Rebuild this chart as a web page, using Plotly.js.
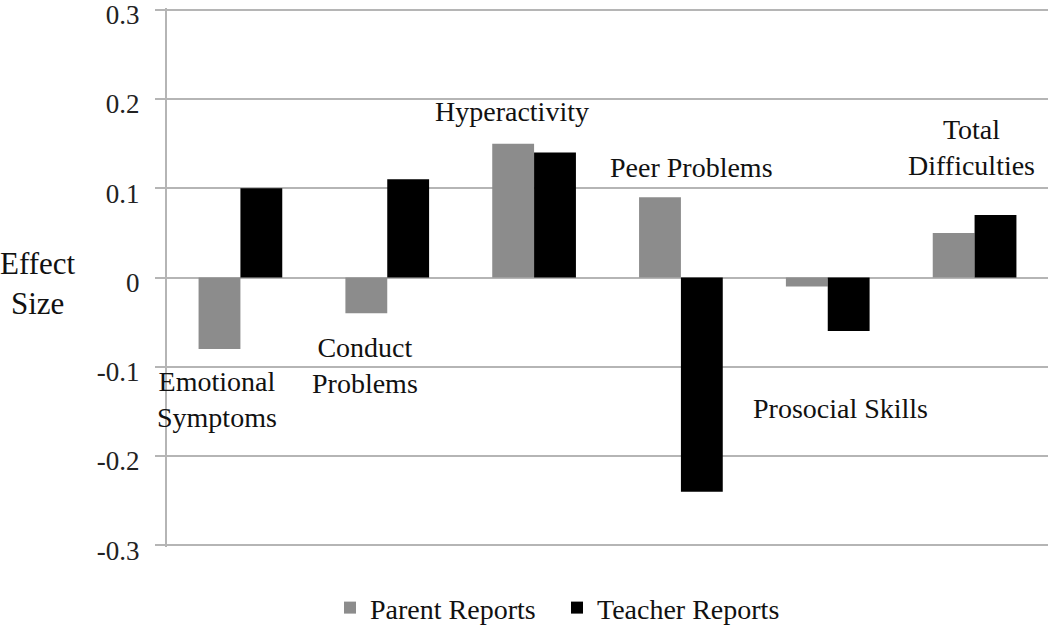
<!DOCTYPE html>
<html>
<head>
<meta charset="utf-8">
<script src="https://cdn.plot.ly/plotly-3.0.1.min.js"></script>
<style>html,body{margin:0;padding:0;background:#fff;}#chart{width:1050px;height:630px;}</style>
</head>
<body>
<div id="chart"></div>
<script>
const categories = ["Emotional Symptoms", "Conduct Problems", "Hyperactivity", "Peer Problems", "Prosocial Skills", "Total Difficulties"];
const parentReports = [-0.08, -0.04, 0.15, 0.09, -0.01, 0.05];
const teacherReports = [0.10, 0.11, 0.14, -0.24, -0.06, 0.07];
const seriesNames = ["Parent Reports", "Teacher Reports"];
const yTicks = [-0.3, -0.2, -0.1, 0, 0.1, 0.2, 0.3];
const yTickLabels = ["-0.3", "-0.2", "-0.1", "0", "0.1", "0.2", "0.3"];
const categoryLabels = ["Emotional<br>Symptoms", "Conduct<br>Problems", "Hyperactivity", "Peer Problems", "Prosocial Skills", "Total<br>Difficulties"];
const labelOffsetX = [-0.16, -0.15, -0.15, 0.07, 0.085, -0.02];
const labelY = [-0.137, -0.099, 0.186, 0.123, -0.147, 0.146];

const font = "Liberation Serif, Times New Roman, serif";

const traces = [
  {type: "bar", name: seriesNames[0], x: categories, y: parentReports, marker: {color: "#8c8c8c"}},
  {type: "bar", name: seriesNames[1], x: categories, y: teacherReports, marker: {color: "#000000"}}
];

const annotations = categoryLabels.map((t, i) => ({
  x: i + labelOffsetX[i], y: labelY[i], xref: "x", yref: "y",
  text: t, showarrow: false, font: {family: font, size: 28, color: "#111"},
  xanchor: "center", yanchor: "middle", align: "center"
}));
annotations.push({
  x: (38 - 167) / (1048 - 167), y: -0.007, xref: "paper", yref: "y", xanchor: "center", yanchor: "middle",
  text: "Effect<br>Size", showarrow: false, font: {family: font, size: 31, color: "#111"}, align: "center"
});

const layout = {
  width: 1050, height: 630,
  margin: {l: 167, r: 2, t: 8, b: 83, autoexpand: false},
  paper_bgcolor: "#fff", plot_bgcolor: "#fff",
  barmode: "group", bargap: 0.43, bargroupgap: 0,
  font: {family: font, size: 20, color: "#222"},
  showlegend: true,
  legend: {orientation: "h", x: (330 - 167) / 881, xanchor: "left", y: -0.113, yanchor: "middle",
           font: {family: font, size: 28, color: "#111"}, itemwidth: 30, tracegroupgap: 0,
           entrywidth: 182, entrywidthmode: "pixels"},
  xaxis: {type: "category", range: [-0.5, 5.5], showticklabels: false, showgrid: false, zeroline: false, showline: false, ticks: ""},
  yaxis: {range: [-0.302, 0.302], tickvals: yTicks, ticktext: yTickLabels,
          showgrid: true, gridcolor: "#b5b5b5", gridwidth: 2,
          zeroline: true, zerolinecolor: "#b5b5b5", zerolinewidth: 2,
          showline: true, linecolor: "#b5b5b5", linewidth: 2,
          ticks: "outside", ticklen: 10, tickcolor: "#b5b5b5", tickwidth: 2,
          ticklabelstandoff: 10, ticklabeloverflow: "allow", ticklabelshift: 5,
          tickfont: {family: font, size: 27, color: "#222"}},
  annotations: annotations
};

Plotly.newPlot("chart", traces, layout, {displayModeBar: false, staticPlot: true});
</script>
</body>
</html>
